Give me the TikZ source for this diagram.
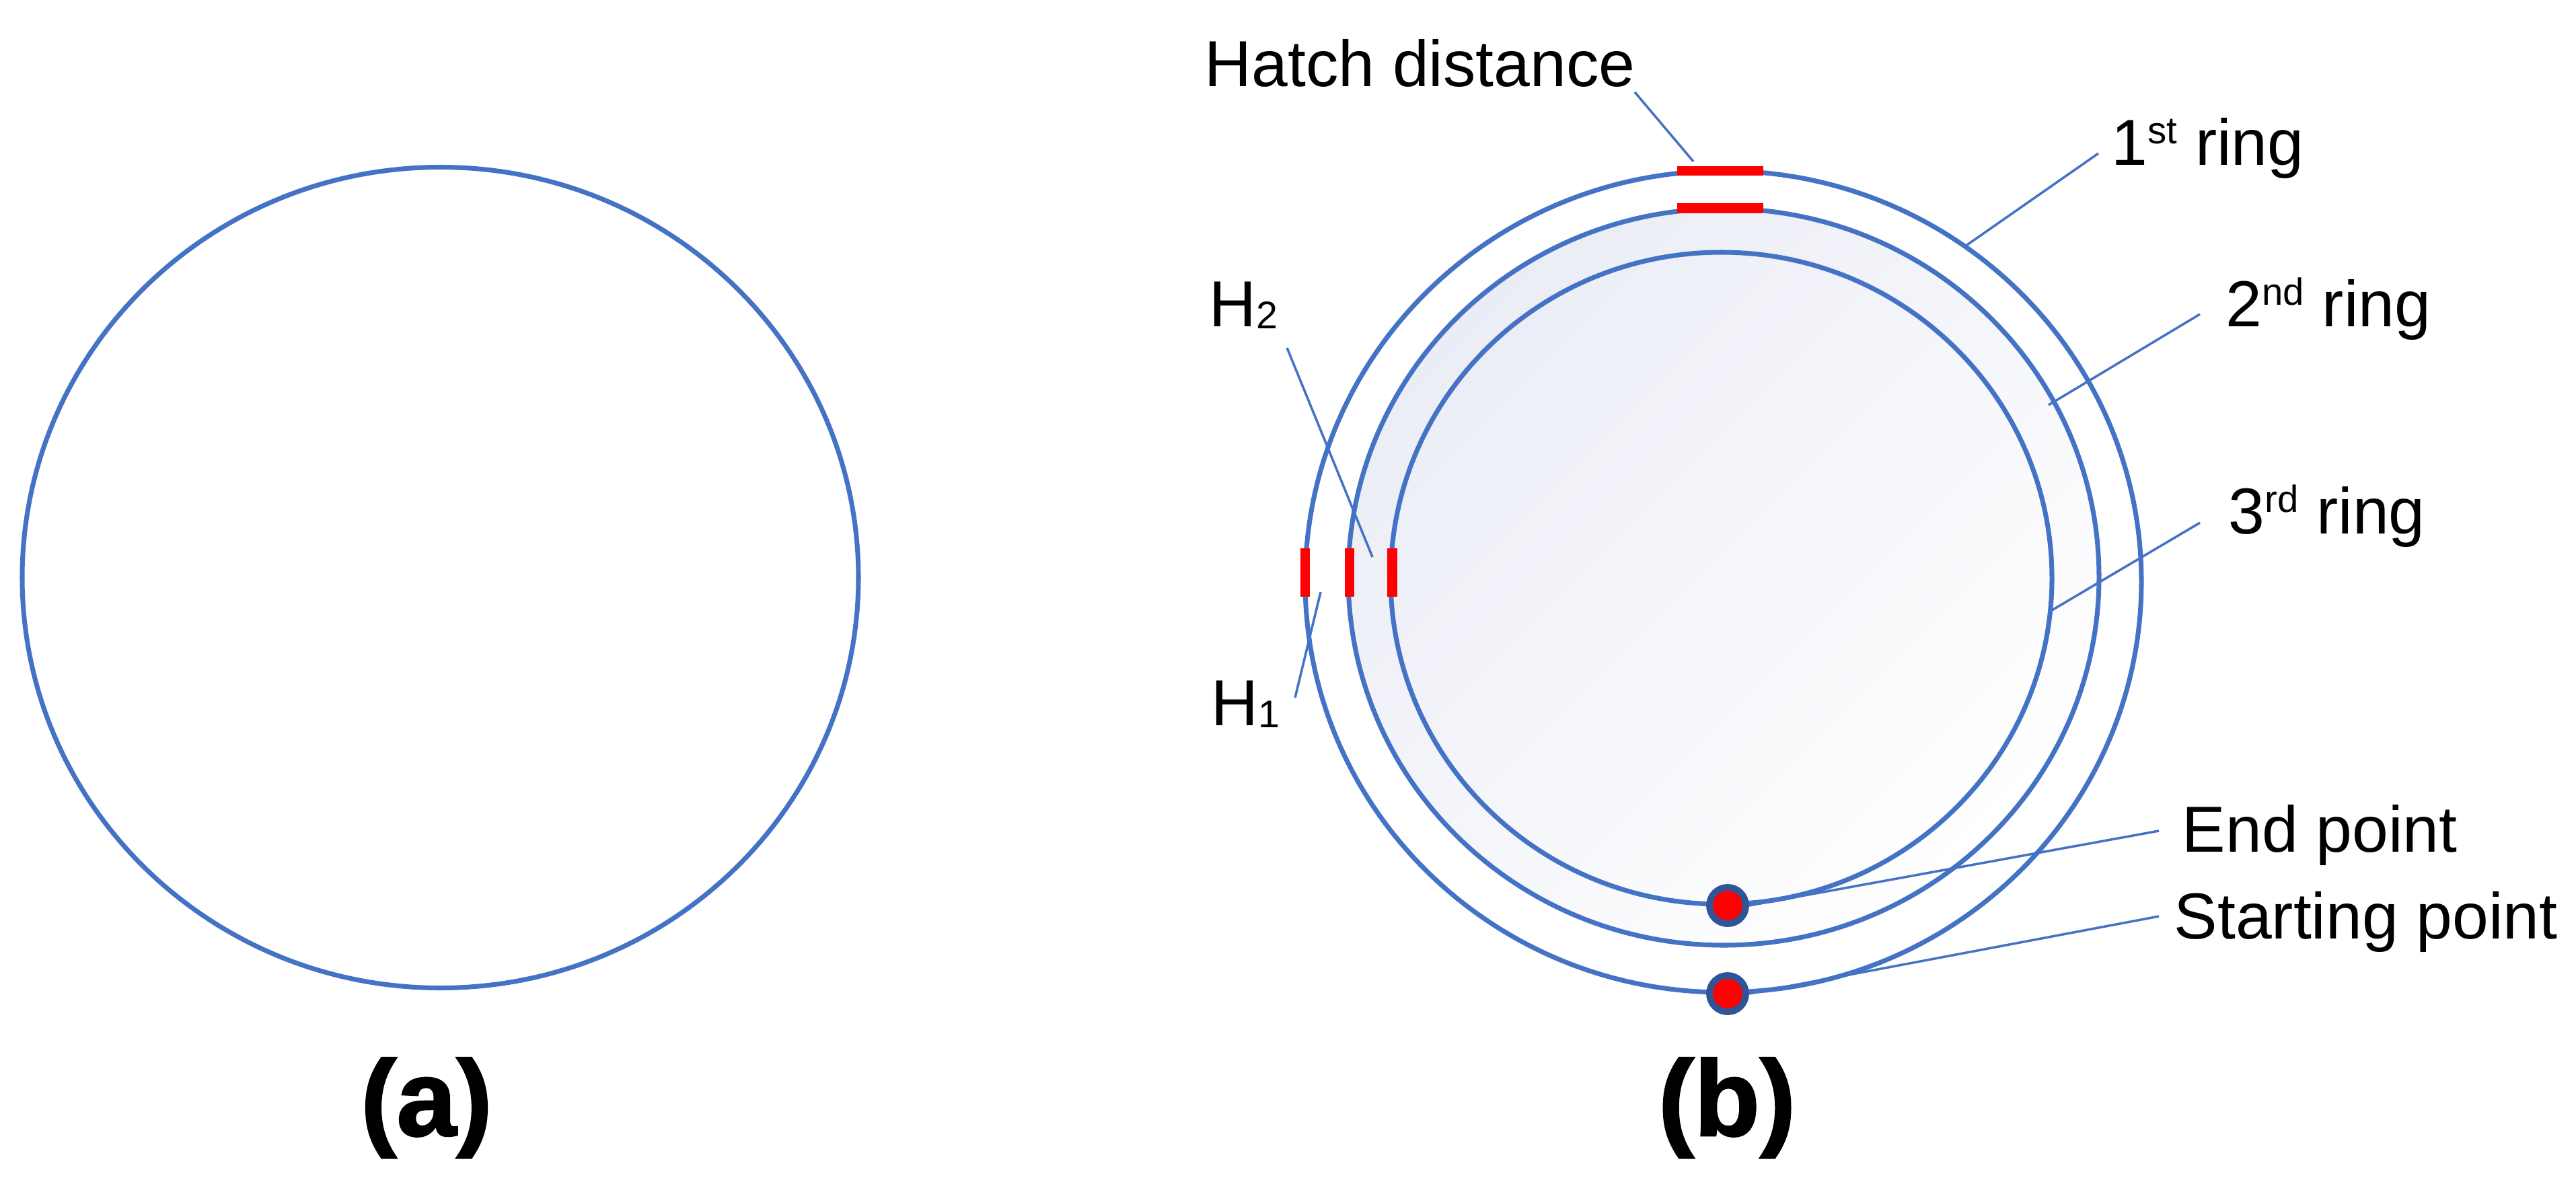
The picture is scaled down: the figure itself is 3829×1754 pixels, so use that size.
\documentclass[tikz,border=0pt]{standalone}
\usepackage{fontspec}
\setmainfont{Liberation Sans}
\newfontfamily\capfont{Liberation Sans}[BoldFeatures={FakeBold=1.6}]
\definecolor{ringblue}{HTML}{4472C4}
\definecolor{dotedge}{HTML}{2F5597}
\definecolor{gradtint}{HTML}{EBEDF6}
\newcommand\supx[1]{\raisebox{0.33em}{\fontsize{16}{16}\selectfont #1}}
\newcommand\subx[1]{\raisebox{-0.04em}{\fontsize{16.3}{16}\selectfont #1}}
\begin{document}
\begin{tikzpicture}[x=0.01cm,y=-0.01cm,
  ringline/.style={draw=ringblue,line width=2pt},
  leader/.style={draw=ringblue,line width=1pt},
  lab/.style={anchor=base west,inner sep=0pt,font=\fontsize{27.5}{33}\selectfont},
  captxt/.style={anchor=base,inner sep=0pt,font=\capfont\bfseries\fontsize{45.5}{50}\selectfont},
  ptdot/.style={circle,fill=red,draw=dotedge,line width=2.8pt,minimum size=0.54cm,inner sep=0pt}]
\useasboundingbox (0,0) rectangle (3829,1754);
\fill[white] (0,0) rectangle (3829,1754);

% ---------- (a)
\draw[ringline] (654.5,858.5) ellipse [x radius=621.5, y radius=610];
\node[captxt] (capa) at (634,1688) {(a)};

% ---------- (b)
\shade[top color=gradtint,bottom color=white,shading angle=45]
  (2562,857.5) ellipse [x radius=558, y radius=547.5];
\draw[ringline] (2561.5,864.5) ellipse [x radius=621.5, y radius=610.5];
\draw[ringline] (2562,857.5) ellipse [x radius=558, y radius=547.5];
\draw[ringline] (2558.5,859.5) ellipse [x radius=491.5, y radius=484.5];

% hatch marks
\fill[red] (2493,247) rectangle (2621,261);
\fill[red] (2493,302) rectangle (2621,317);
\fill[red] (1933,815) rectangle (1947,887);
\fill[red] (1999,815) rectangle (2013,887);
\fill[red] (2062,815) rectangle (2077,887);

% labels
\node[lab] (hatch) at (1790,128) {Hatch distance};
\node[lab] (r1) at (3138,245) {1\supx{st} ring};
\node[lab] (r2) at (3308,485) {2\supx{nd} ring};
\node[lab] (r3) at (3312,793) {3\supx{rd} ring};
\node[lab] (h2) at (1797,485) {H\subx{2}};
\node[lab] (h1) at (1800,1078) {H\subx{1}};
\node[lab] (endl) at (3243,1266) {End point};
\node[lab] (startl) at (3231,1395) {Starting point};
\node[captxt] (capb) at (2567,1688) {(b)};

% leader end points
\coordinate (hdA) at (2430,137);  \coordinate (hdB) at (2517,240);
\coordinate (r1A) at (3119,228);  \coordinate (r1B) at (2921,366);
\coordinate (r2A) at (3270,467);  \coordinate (r2B) at (3045,602);
\coordinate (r3A) at (3270,777);  \coordinate (r3B) at (3045,910);
\coordinate (h2A) at (1913,517);  \coordinate (h2B) at (2040,828);
\coordinate (h1A) at (1925,1037); \coordinate (h1B) at (1963,880);
\coordinate (epA) at (3209,1235);
\coordinate (spA) at (3209,1362);

\draw[leader] (hdA) -- (hdB);
\draw[leader] (r1A) -- (r1B);
\draw[leader] (r2A) -- (r2B);
\draw[leader] (r3A) -- (r3B);
\draw[leader] (h2A) -- (h2B);
\draw[leader] (h1A) -- (h1B);

% points
\node[ptdot] (endpt) at (2568,1346) {};
\node[ptdot] (startpt) at (2568,1477) {};
\draw[leader] (endpt.east) -- (epA);
\draw[leader] (startpt.east) -- (spA);
\end{tikzpicture}
\end{document}
